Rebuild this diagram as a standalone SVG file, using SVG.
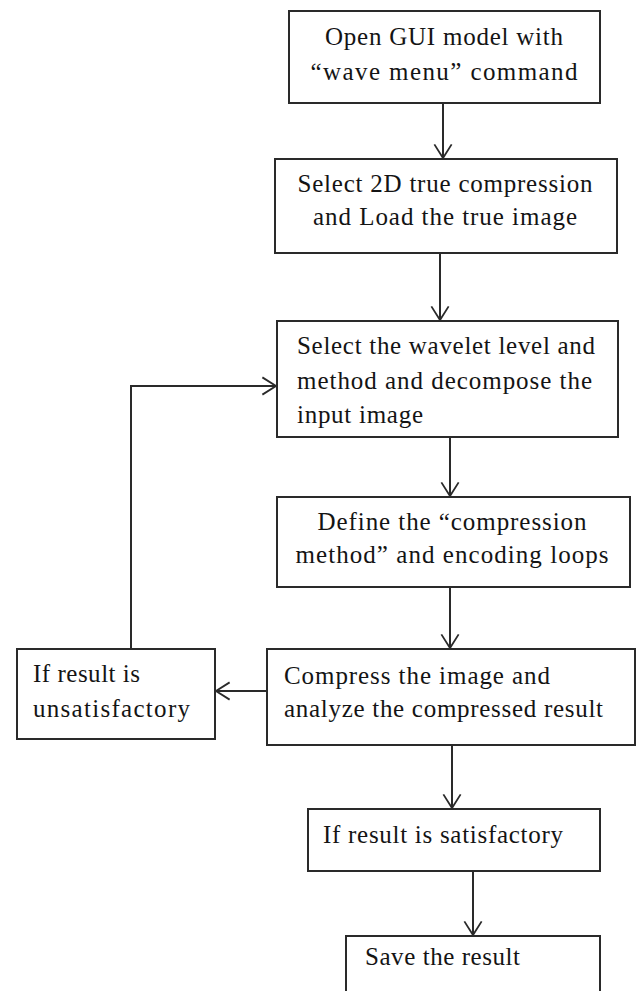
<svg xmlns="http://www.w3.org/2000/svg" width="636" height="991" viewBox="0 0 636 991">
<style>
  .box { fill: #ffffff; stroke: #2a2a2a; stroke-width: 2; }
  .lbl { font-family: "Liberation Serif", "Times New Roman", serif; font-size: 25px; fill: #141414; }
  .mid { text-anchor: middle; }
  .con { fill: none; stroke: #2a2a2a; stroke-width: 2; }
</style>
<defs>
  <marker id="arr" markerUnits="userSpaceOnUse" markerWidth="24" markerHeight="20" viewBox="-1 -11 17 22" refX="15" refY="0" orient="auto">
    <path d="M0,-9.5 L15,0 L0,9.5" fill="none" stroke="#2a2a2a" stroke-width="2"/>
  </marker>
</defs>
<rect width="636" height="991" fill="#ffffff"/>

<g id="connectors">
  <line class="con" x1="443" y1="103" x2="443" y2="158" marker-end="url(#arr)"/>
  <line class="con" x1="440" y1="253" x2="440" y2="320" marker-end="url(#arr)"/>
  <line class="con" x1="450" y1="437" x2="450" y2="496" marker-end="url(#arr)"/>
  <line class="con" x1="450" y1="587" x2="450" y2="648" marker-end="url(#arr)"/>
  <line class="con" x1="267" y1="691" x2="216" y2="691" marker-end="url(#arr)"/>
  <path class="con" d="M131,649 V386 H276" marker-end="url(#arr)"/>
  <line class="con" x1="452" y1="745" x2="452" y2="808" marker-end="url(#arr)"/>
  <line class="con" x1="473" y1="871" x2="473" y2="935" marker-end="url(#arr)"/>
</g>

<g id="n1">
  <rect class="box" x="289" y="11" width="311" height="92"/>
  <text class="lbl mid" x="444" y="45" textLength="238" lengthAdjust="spacing">Open GUI model with</text>
  <text class="lbl mid" x="444" y="80" textLength="267" lengthAdjust="spacing">“wave menu” command</text>
</g>

<g id="n2">
  <rect class="box" x="275" y="159" width="342" height="94"/>
  <text class="lbl mid" x="445" y="192" textLength="295" lengthAdjust="spacing">Select 2D true compression</text>
  <text class="lbl mid" x="445" y="225" textLength="264" lengthAdjust="spacing">and Load the true image</text>
</g>

<g id="n3">
  <rect class="box" x="277" y="321" width="341" height="116"/>
  <text class="lbl" x="297" y="354" textLength="298" lengthAdjust="spacing">Select the wavelet level  and</text>
  <text class="lbl" x="297" y="389" textLength="295" lengthAdjust="spacing">method and decompose the</text>
  <text class="lbl" x="297" y="423" textLength="126" lengthAdjust="spacing">input image</text>
</g>

<g id="n4">
  <rect class="box" x="277" y="497" width="353" height="90"/>
  <text class="lbl mid" x="452" y="530" textLength="269" lengthAdjust="spacing">Define the “compression</text>
  <text class="lbl mid" x="452" y="563" textLength="313" lengthAdjust="spacing">method” and encoding loops</text>
</g>

<g id="n5">
  <rect class="box" x="267" y="649" width="368" height="96"/>
  <text class="lbl" x="284" y="684" textLength="266" lengthAdjust="spacing">Compress the image and</text>
  <text class="lbl" x="284" y="717" textLength="319" lengthAdjust="spacing">analyze the compressed result</text>
</g>

<g id="n6">
  <rect class="box" x="17" y="649" width="198" height="90"/>
  <text class="lbl" x="33" y="682" textLength="107" lengthAdjust="spacing">If result is</text>
  <text class="lbl" x="33" y="717" textLength="157" lengthAdjust="spacing">unsatisfactory</text>
</g>

<g id="n7">
  <rect class="box" x="308" y="809" width="292" height="62"/>
  <text class="lbl" x="323" y="843" textLength="240" lengthAdjust="spacing">If result is satisfactory</text>
</g>

<g id="n8">
  <rect class="box" x="346" y="936" width="254" height="70"/>
  <text class="lbl" x="365" y="965" textLength="155" lengthAdjust="spacing">Save the result</text>
</g>
</svg>
